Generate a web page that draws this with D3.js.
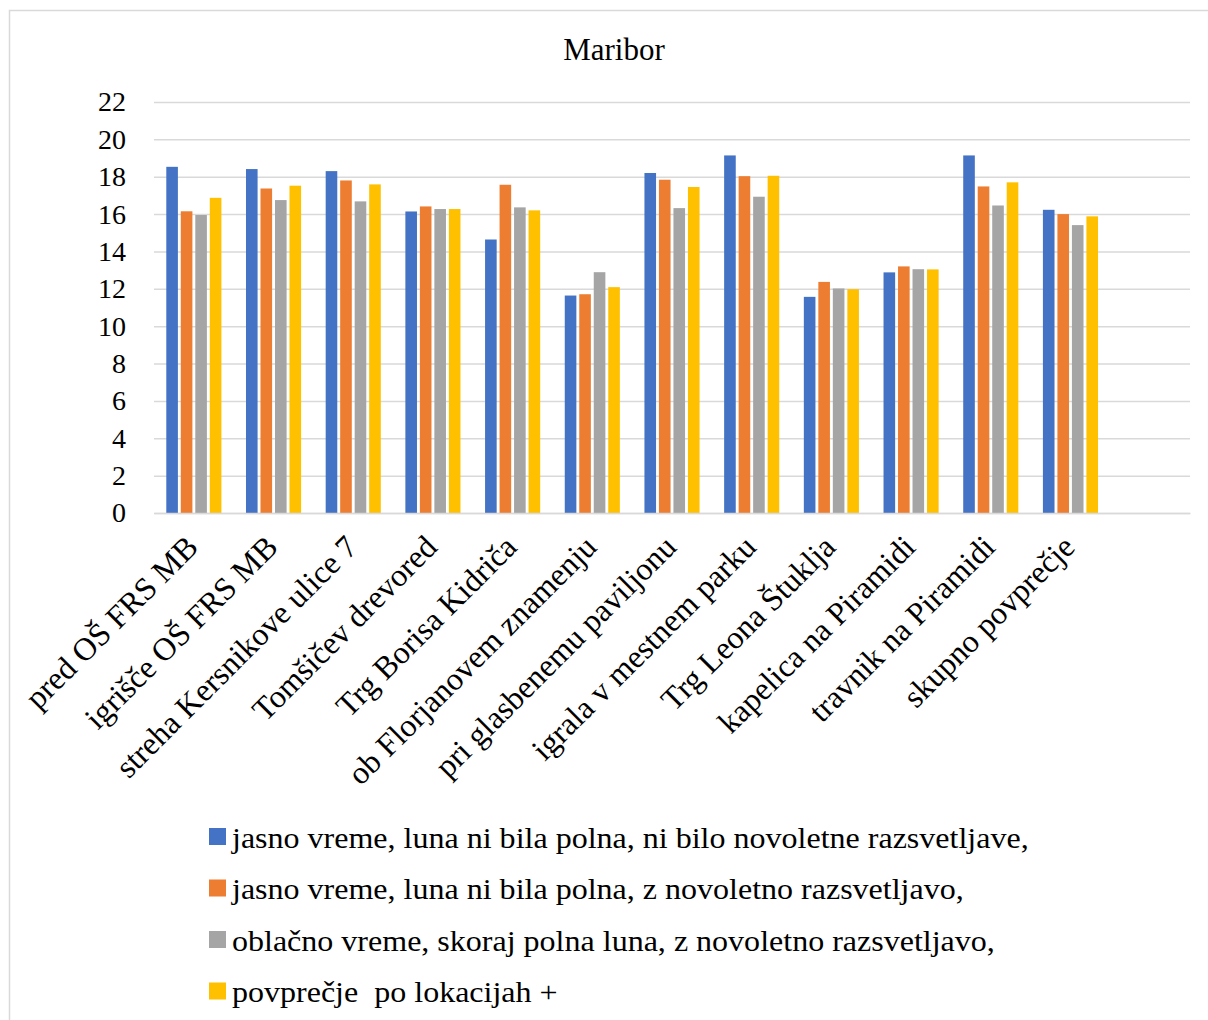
<!DOCTYPE html>
<html>
<head>
<meta charset="utf-8">
<script src="https://cdn.jsdelivr.net/npm/d3@7"></script>
<style>
  html, body { margin: 0; padding: 0; background: #fff; }
  svg { display: block; font-family: "Liberation Serif", "Times New Roman", serif; }
</style>
</head>
<body>
<svg id="chart" width="1208" height="1020"></svg>
<script>
// Locations (the last slot is left empty, as in the original layout)
const categories = [
  "pred OŠ FRS MB",
  "igrišče OŠ FRS MB",
  "streha Kersnikove ulice 7",
  "Tomšičev drevored",
  "Trg Borisa Kidriča",
  "ob Florjanovem znamenju",
  "pri glasbenemu paviljonu",
  "igrala v mestnem parku",
  "Trg Leona Štuklja",
  "kapelica na Piramidi",
  "travnik na Piramidi",
  "skupno povprečje",
  ""
];

const seriesNames = [
  "jasno vreme, luna ni bila polna, ni bilo novoletne razsvetljave,",
  "jasno vreme, luna ni bila polna, z novoletno razsvetljavo,",
  "oblačno vreme, skoraj polna luna, z novoletno razsvetljavo,",
  "povprečje  po lokacijah +"
];

const seriesColors = ["#4472C4", "#ED7D31", "#A5A5A5", "#FFC000"];

const clearNoLights   = [18.53, 18.41, 18.30, 16.14, 14.64, 11.64, 18.20, 19.14, 11.57, 12.88, 19.14, 16.23];
const clearWithLights = [16.15, 17.37, 17.80, 16.41, 17.57, 11.71, 17.84, 18.03, 12.37, 13.20, 17.48, 16.00];
const cloudyFullMoon  = [15.95, 16.75, 16.68, 16.27, 16.36, 12.89, 16.32, 16.93, 12.02, 13.05, 16.46, 15.41];
const locationAverage = [16.87, 17.52, 17.59, 16.27, 16.20, 12.09, 17.45, 18.05, 11.98, 13.04, 17.70, 15.88];

const yTicks = [0, 2, 4, 6, 8, 10, 12, 14, 16, 18, 20, 22];

const seriesValues = [clearNoLights, clearWithLights, cloudyFullMoon, locationAverage];

const svg = d3.select("#chart");

// Outer chart frame
svg.append("rect")
  .attr("x", 9.5).attr("y", 10.5)
  .attr("width", 1240).attr("height", 1040)
  .attr("fill", "none")
  .attr("stroke", "#d9d9d9")
  .attr("stroke-width", 1.5);

// Title
svg.append("text")
  .attr("x", 614).attr("y", 60)
  .attr("text-anchor", "middle")
  .attr("font-size", 31)
  .attr("fill", "#000")
  .text("Maribor");

const plot = { left: 154, right: 1190, top: 102, bottom: 513 };

const y = d3.scaleLinear().domain([0, 22]).range([plot.bottom, plot.top]);

const x0 = d3.scaleBand()
  .domain(d3.range(categories.length))
  .range([plot.left, plot.right])
  .paddingInner(0).paddingOuter(0);

const x1 = d3.scaleBand()
  .domain(d3.range(seriesNames.length))
  .range([0, 58])
  .paddingInner(0.2).paddingOuter(0.1);

// Horizontal gridlines and y labels
const yAxis = d3.axisLeft(y)
  .tickValues(yTicks)
  .tickSize(-(plot.right - plot.left))
  .tickPadding(28)
  .tickFormat(d3.format("d"));

const gy = svg.append("g")
  .attr("transform", `translate(${plot.left},0)`)
  .call(yAxis);
gy.select(".domain").remove();
gy.selectAll(".tick line")
  .attr("stroke", "#d9d9d9")
  .attr("stroke-width", 1.5);
gy.selectAll(".tick text")
  .attr("font-size", 28)
  .attr("font-family", "Liberation Serif, Times New Roman, serif")
  .attr("fill", "#000");

// Bars
const groups = svg.append("g").selectAll("g")
  .data(categories.slice(0, clearNoLights.length).map((c, i) => ({ c, i })))
  .join("g")
  .attr("transform", d => `translate(${x0(d.i) + x0.bandwidth() / 2 - 29},0)`);

groups.selectAll("rect")
  .data(d => seriesValues.map((vals, s) => ({ s, v: vals[d.i] })))
  .join("rect")
  .attr("x", d => x1(d.s))
  .attr("width", x1.bandwidth())
  .attr("y", d => y(d.v))
  .attr("height", d => y(0) - y(d.v))
  .attr("fill", d => seriesColors[d.s]);

// Category axis (rotated labels)
const xAxis = d3.axisBottom(x0)
  .tickSize(0)
  .tickFormat(i => categories[i]);

const gx = svg.append("g")
  .attr("transform", `translate(0,${plot.bottom})`)
  .call(xAxis);
gx.select(".domain")
  .attr("stroke", "#d9d9d9")
  .attr("stroke-width", 1.5);
gx.selectAll(".tick text")
  .attr("font-size", 32)
  .attr("font-family", "Liberation Serif, Times New Roman, serif")
  .attr("fill", "#000")
  .attr("text-anchor", "end")
  .attr("dy", 0)
  .attr("y", 0)
  .attr("transform", "translate(6,36) rotate(-45)");

// Legend
const legend = svg.append("g").attr("transform", "translate(209,0)");
const rowY = [848, 899.5, 951, 1002.5];
seriesNames.forEach((name, i) => {
  legend.append("rect")
    .attr("x", 0).attr("y", rowY[i] - 20)
    .attr("width", 17).attr("height", 17)
    .attr("fill", seriesColors[i]);
  legend.append("text")
    .attr("x", 23).attr("y", rowY[i])
    .attr("font-size", 30)
    .attr("fill", "#000")
    .attr("xml:space", "preserve")
    .style("white-space", "pre")
    .attr("transform", `translate(23,${rowY[i]}) scale(1.068,1) translate(-23,${-rowY[i]})`)
    .text(name);
});
</script>
</body>
</html>
